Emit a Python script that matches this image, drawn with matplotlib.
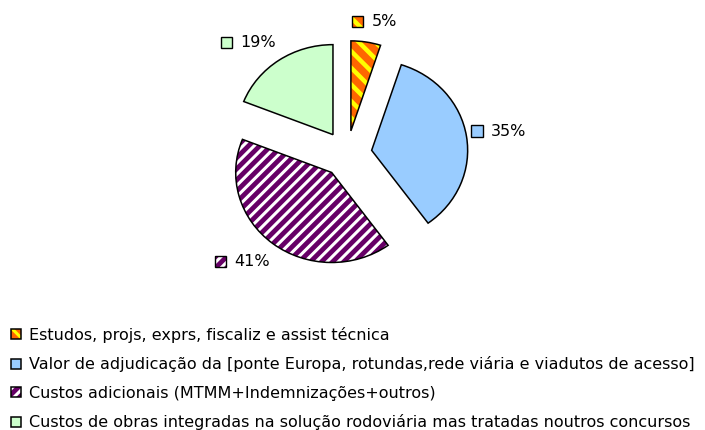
import matplotlib
matplotlib.use('Agg')
import matplotlib.pyplot as plt
from matplotlib.patches import Rectangle
from matplotlib.offsetbox import AnnotationBbox, HPacker, DrawingArea, TextArea
from matplotlib.legend_handler import HandlerTuple
import numpy as np

# ---------------- data ----------------
categories = [
    "Estudos, projs, exprs, fiscaliz e assist técnica",
    "Valor de adjudicação da [ponte Europa, rotundas,rede viária e viadutos de acesso]",
    "Custos adicionais (MTMM+Indemnizações+outros)",
    "Custos de obras integradas na solução rodoviária mas tratadas noutros concursos",
]
values = [5, 35, 41, 19]
pct_labels = ["5%", "35%", "41%", "19%"]

# ---------------- style ----------------
face_colors = ["#FF6600", "#99CCFF", "#660066", "#CCFFCC"]
stripe_colors = ["#FFFF00", "#99CCFF", "#FFFFFF", "#CCFFCC"]
hatches = ["\\\\", None, "///", None]
hatch_widths = [3.2, 1.0, 2.2, 1.0]

plt.rcParams['font.family'] = ['DejaVu Sans']
plt.rcParams['hatch.linewidth'] = 2.2
FS = 11.5

W, H = 705, 430
fig = plt.figure(figsize=(W / 100, H / 100), dpi=100)
fig.patch.set_facecolor('white')

cx, cy, rx, ry = 347, 154, 96, 90
lim = 1.5
ax = fig.add_axes([(cx - lim * rx) / W, (H - cy - lim * ry) / H,
                   2 * lim * rx / W, 2 * lim * ry / H])


def style_hatch(p, ec, h, hw):
    p.set_edgecolor(ec)
    p.set_linewidth(0)
    if h:
        p.set_hatch(h)
        if hasattr(p, 'set_hatch_linewidth'):
            p.set_hatch_linewidth(hw)


explode = [0.26] * len(values)
fill_wedges, _ = ax.pie(values, explode=explode, startangle=90, counterclock=False,
                        colors=face_colors, wedgeprops=dict(linewidth=0))
for w, ec, h, hw in zip(fill_wedges, stripe_colors, hatches, hatch_widths):
    style_hatch(w, ec, h, hw)
edge_wedges, _ = ax.pie(values, explode=explode, startangle=90, counterclock=False,
                        wedgeprops=dict(facecolor='none', edgecolor='black', linewidth=1.1))
ax.set_aspect('auto')
ax.set_xlim(-lim, lim)
ax.set_ylim(-lim, lim)
ax.axis('off')

# ---------------- percentage labels ----------------
OFF_X, OFF_Y = 5, 13  # px gap from arc to label box
for w, lab, fc, ec, h, hw in zip(fill_wedges, pct_labels, face_colors,
                                 stripe_colors, hatches, hatch_widths):
    da = DrawingArea(8, 8, 0, 0)
    r1 = Rectangle((0, 0), 8, 8, facecolor=fc)
    style_hatch(r1, ec, h, hw)
    r2 = Rectangle((0, 0), 8, 8, facecolor='none', edgecolor='black', linewidth=1.0)
    da.add_artist(r1)
    da.add_artist(r2)
    ta = TextArea(lab, textprops=dict(fontsize=FS, color='black'))
    pack = HPacker(children=[da, ta], sep=6, pad=0, align='center')

    mid = np.deg2rad((w.theta1 + w.theta2) / 2)
    dvec = np.array([np.cos(mid), np.sin(mid)])
    arc_px = ax.transData.transform(np.array(w.center) + dvec * w.r)
    dpx = np.array([dvec[0] * rx, dvec[1] * ry])
    dpx /= np.linalg.norm(dpx)
    anchor = ax.transData.inverted().transform(
        arc_px + np.array([OFF_X * dpx[0], OFF_Y * dpx[1]]))
    align = (0.5 - 0.5 * np.clip(2 * dpx[0], -1, 1),
             0.5 - 0.5 * np.clip(3 * dpx[1], -1, 1))
    ab = AnnotationBbox(pack, tuple(anchor), xycoords='data', box_alignment=align,
                        frameon=False, pad=0)
    ax.add_artist(ab)

# ---------------- legend ----------------
handles = [(a, b) for a, b in zip(fill_wedges, edge_wedges)]
fig.legend(handles, categories, loc='upper left',
           bbox_to_anchor=(11 / W, 1 - 327 / H), frameon=False,
           handler_map={tuple: HandlerTuple(ndivide=1, pad=0)},
           handlelength=0.6, handleheight=0.6, handletextpad=0.5,
           labelspacing=0.84, borderpad=0, borderaxespad=0, fontsize=FS)

fig.savefig('out.png', dpi=100, facecolor='white')
